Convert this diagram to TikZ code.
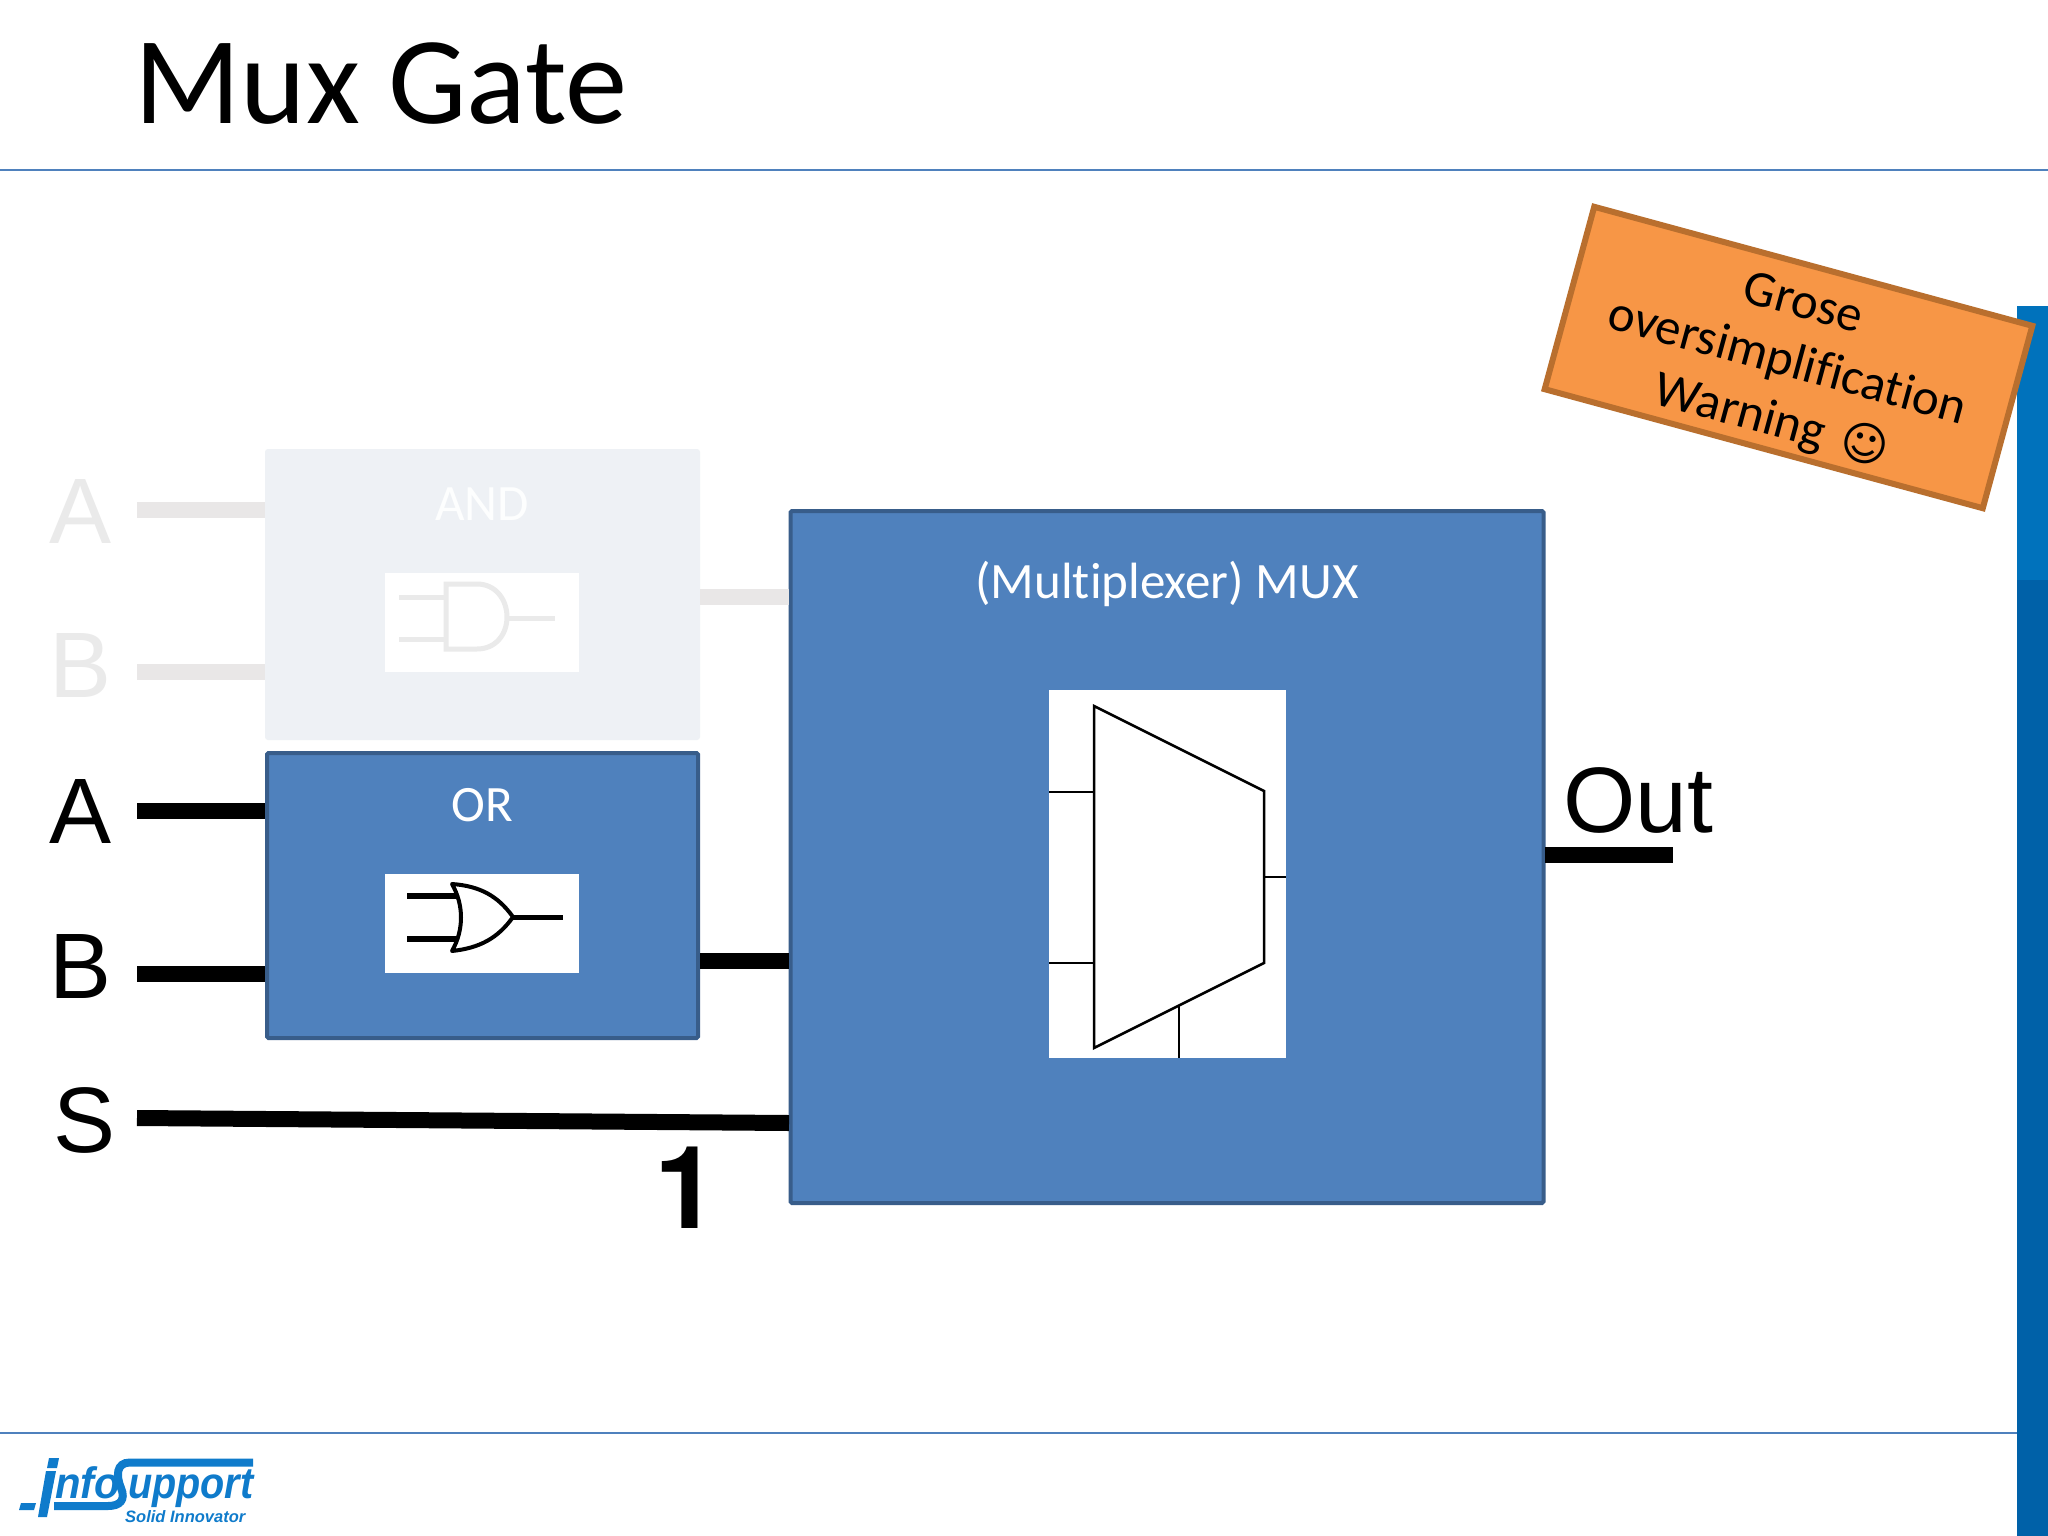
\documentclass[tikz,border=0pt]{standalone}
\usepackage{fontspec}
\setmainfont[Ligatures=NoCommon]{Carlito}
\newfontfamily\arialfont{Liberation Sans}
\newfontfamily\heldfont{TeX Gyre Heros}
\newfontfamily\symfont{DejaVu Sans}
\definecolor{slideblue}{HTML}{4F81BD}
\definecolor{slideedge}{HTML}{385D8A}
\definecolor{fadedbox}{HTML}{EEF1F5}
\definecolor{fadedwire}{HTML}{E9E7E7}
\definecolor{fadedtext}{HTML}{EAEAEA}
\definecolor{noteorange}{HTML}{F79646}
\definecolor{noteedge}{HTML}{B96F2E}
\definecolor{logoblue}{HTML}{0F7BCB}
\definecolor{barlight}{HTML}{0072BC}
\definecolor{bardark}{HTML}{0061A8}
\newcommand{\fsize}[1]{\fontsize{#1}{#1}\selectfont}
\begin{document}
\begin{tikzpicture}[x=1pt,y=-1pt]
    \tikzstyle{box}=[draw=slideedge,fill=slideblue,line width=4pt,rounded corners=1.5pt,outer sep=2pt,inner sep=0pt]
    \tikzstyle{boxtitle}=[text=white,inner sep=0pt,font=\fsize{51}]
    \tikzstyle{picbox}=[fill=white,outer sep=0pt,inner sep=0pt]
    \tikzstyle{wire}=[line width=16pt,black]
    \tikzstyle{pinname}=[inner sep=0pt,font=\arialfont\fsize{93}]
    \tikzstyle{icon}=[black,line width=2.5pt]
    \useasboundingbox (0,0) rectangle (2048,1536);

    % slide frame
    \fill[white] (0,0) rectangle (2048,1536);
    \fill[barlight] (2017,306) rectangle (2048,580);
    \fill[bardark] (2017,580) rectangle (2048,1536);
    \coordinate (top-l) at (0,170);
    \coordinate (top-r) at (2048,170);
    \coordinate (bot-l) at (0,1433);
    \coordinate (bot-r) at (2017,1433);
    \draw[slideblue,line width=2.5pt] (top-l) -- (top-r);
    \draw[slideblue,line width=2.5pt] (bot-l) -- (bot-r);
    \node[anchor=base west,inner sep=0pt,font=\fsize{124.5}] (title) at (134,124) {Mux Gate};

    % boxes
    \node[fill=fadedbox,minimum width=435pt,minimum height=291pt,rounded corners=3pt,outer sep=0pt] (andbox) at (482.5,594.5) {};
    \node[box,minimum width=431pt,minimum height=285pt] (orbox) at (482.5,895.5) {};
    \node[box,minimum width=753pt,minimum height=692pt] (muxbox) at (1167,857) {};

    % box titles
    \node[boxtitle,text=white!90!fadedbox] (andname) at (482,504) {AND};
    \node[boxtitle] (orname) at (482,805) {OR};
    \node[boxtitle] (muxname) at (1167,584) {(Multiplexer) MUX};

    % pictures in the boxes
    \node[picbox,minimum width=194pt,minimum height=99pt] (andpic) at (482,622.5) {};
    \node[picbox,minimum width=194pt,minimum height=99pt] (orpic) at (482,923.5) {};
    \node[picbox,minimum width=237pt,minimum height=368pt] (muxpic) at (1167.5,874) {};

    % pin names
    \node[pinname,text=fadedtext] (A-1) at (81,512) {A};
    \node[pinname,text=fadedtext] (B-1) at (81,666) {B};
    \node[pinname] (A-2) at (81,812) {A};
    \node[pinname] (B-2) at (81,966) {B};
    \node[pinname] (S) at (85,1120) {S};
    \node[pinname,anchor=west] (Out) at (1563,800) {Out};
    \node[pinname,font=\heldfont\bfseries\fsize{115}] (one) at (686,1188) {1};

    % wires into the AND and OR box
    \foreach \y/\name in {510/a1,672/b1}
    \coordinate (\name) at (137,\y);
    \foreach \y/\name in {811/a2,974/b2}
    \coordinate (\name) at (137,\y);
    \foreach \name in {a1,b1}
    \draw[wire,fadedwire] (\name) -- (\name -| andbox.west);
    \foreach \name in {a2,b2}
    \draw[wire] (\name) -- (\name -| orbox.west);

    % wires into and out of the MUX box
    \coordinate (s1) at (137,1118);
    \coordinate (s2) at (789,1123);
    \coordinate (and-out) at (700,597);
    \coordinate (or-out) at (700,961);
    \coordinate (out1) at (1545,855);
    \coordinate (out2) at (1673,855);
    \draw[wire,fadedwire] (and-out) -- (and-out -| muxbox.west);
    \draw[wire] (or-out) -- (or-out -| muxbox.west);
    \draw[wire] (s1) -- (s2);
    \draw[wire] (out1) -- (out2);

    % mux symbol
    \draw[icon] (1094,706) -- (1264,791) -- (1264,963) -- (1094,1048) -- cycle;
    \draw[icon] (muxpic.west |- 0,792) -- (1094,792);
    \draw[icon] (muxpic.west |- 0,963) -- (1094,963);
    \draw[icon] (1264,877) -- (muxpic.east |- 0,877);
    \draw[icon] (1179,1005) -- (1179,1058);

    % and symbol
    \begin{scope}[fadedtext,line width=5pt]
    \draw (446,584) -- (477,584) .. controls (496,584) and (507,600) .. (507,617)
        .. controls (507,634) and (496,649) .. (477,649) -- (446,649) -- cycle;
    \draw (399,597) -- (446,597);
    \draw (399,639) -- (446,639);
    \draw (507,618) -- (555,618);
    \end{scope}

    % or symbol
    \draw[line width=4pt,line join=round] (452,884) .. controls (480,886) and (498,896) .. (513,917)
        .. controls (498,938) and (480,948) .. (452,951)
        .. controls (464,930) and (464,905) .. (452,884) -- cycle;
    \draw[line width=6pt] (407,896) -- (458,896);
    \draw[line width=6pt] (407,939) -- (458,939);
    \draw[line width=5pt] (513,917) -- (563,917);

    % warning note
    \node[draw=noteedge,fill=noteorange,line width=6pt,rotate=-15.2,minimum width=454pt,minimum height=189pt,
        text width=440pt,align=center,inner sep=0pt,font=\fontsize{51}{61}\selectfont] (warn) at (1788.5,357.5)
        {\rule{0pt}{47pt}Grose\\oversimplification\\Warning {\symfont\fsize{46}☺}};

    % logo
    \begin{scope}[logoblue]
    \fill (21,1503) -- (36,1503) -- (34,1510) -- (19,1510) -- cycle;
    \fill (49,1458) -- (59,1458) -- (57,1468) -- (47,1468) -- cycle;
    \fill (46,1471) -- (56,1471) -- (47,1517) -- (38,1517) -- cycle;
    \draw[line width=8pt] (253,1462.5) -- (130,1462.5) .. controls (116,1462.5) and (116,1476) .. (121,1488)
        .. controls (126,1500) and (120,1506) .. (108,1506) -- (54,1506);
    \node[anchor=base west,inner sep=0pt,text=logoblue,xscale=.95,font=\arialfont\bfseries\itshape\fsize{44}] (logo-nfo) at (55,1498) {nfo};
    \node[anchor=base west,inner sep=0pt,text=logoblue,xscale=.9,font=\arialfont\bfseries\itshape\fsize{44}] (logo-upport) at (128,1498) {upport};
    \node[anchor=base west,inner sep=0pt,text=logoblue,font=\arialfont\bfseries\itshape\fsize{16.5}] (logo-sub) at (125,1522) {Solid Innovator};
    \end{scope}
  \end{tikzpicture}
\end{document}
